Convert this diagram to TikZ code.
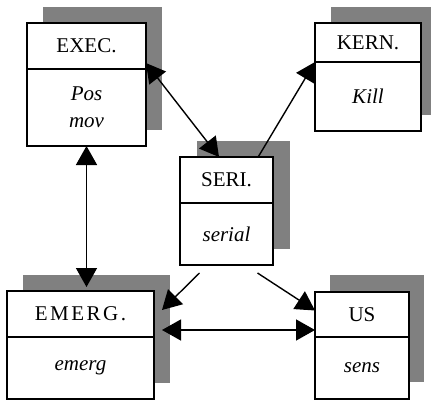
\documentclass[tikz,border=0pt]{standalone}
\usepackage{fontspec}
\setmainfont{Liberation Serif}
\usetikzlibrary{positioning,arrows.meta}

\pgfdeclarelayer{shade}
\pgfdeclarelayer{links}
\pgfsetlayers{shade,links,main}

\begin{document}
\begin{tikzpicture}[x=1pt, y=-1pt, font=\fontsize{21}{27}\selectfont ,
modTitle/.style={rectangle, draw, fill=white, line width=1.4pt, outer sep=0pt, inner sep=1pt} ,
modBody/.style={modTitle, font=\fontsize{21}{27}\selectfont\itshape, align=center} ,
modShade/.style={fill=gray} ,
link/.style={line width=1.4pt, {Triangle[length=19pt,width=21pt]}-{Triangle[length=19pt,width=21pt]}} ,
oneWay/.style={line width=1.4pt, -{Triangle[length=19pt,width=21pt]}}
]
\clip (0,0) rectangle (431,401) ;

% modules
\node (exec-title) at (27,23) [modTitle, anchor=north west, minimum width=119pt, minimum height=46pt] {EXEC.} ;
\node (exec-body) at (exec-title.south) [below=0pt, modBody, minimum width=119pt, minimum height=77pt] {Pos\\mov} ;

\node (kern-title) at (315,23) [modTitle, anchor=north west, minimum width=106pt, minimum height=39pt] {KERN.} ;
\node (kern-body) at (kern-title.south) [below=0pt, modBody, minimum width=106pt, minimum height=69pt] {Kill} ;

\node (seri-title) at (180,157) [modTitle, anchor=north west, minimum width=93pt, minimum height=46pt] {SERI.} ;
\node (seri-body) at (seri-title.south) [below=0pt, modBody, minimum width=93pt, minimum height=62pt] {serial} ;

\node (emerg-title) at (7,291) [modTitle, anchor=north west, minimum width=147pt, minimum height=46pt] {\addfontfeature{LetterSpace=12}EMERG.} ;
\node (emerg-body) at (emerg-title.south) [below=0pt, modBody, minimum width=147pt, minimum height=62pt] {emerg} ;

\node (us-title) at (315,292) [modTitle, anchor=north west, minimum width=94pt, minimum height=45pt] {US} ;
\node (us-body) at (us-title.south) [below=0pt, modBody, minimum width=94pt, minimum height=62pt] {sens} ;

% shadows
\begin{pgfonlayer}{shade}
\fill [modShade] ([shift={(16,-16)}]exec-title.north west) rectangle ([shift={(16,-16)}]exec-body.south east) ;
\fill [modShade] ([shift={(16,-16)}]kern-title.north west) rectangle ([shift={(16,-16)}]kern-body.south east) ;
\fill [modShade] ([shift={(17,-16)}]seri-title.north west) rectangle ([shift={(17,-16)}]seri-body.south east) ;
\fill [modShade] ([shift={(16,-16)}]emerg-title.north west) rectangle ([shift={(16,-16)}]emerg-body.south east) ;
\fill [modShade] ([shift={(15,-17)}]us-title.north west) rectangle ([shift={(15,-17)}]us-body.south east) ;
\end{pgfonlayer}

% connectors
\path (exec-body.south |- emerg-title.north) ++(0,-4) coordinate (emerg-in) ;
\begin{pgfonlayer}{links}
\draw [link] (exec-title.-16) -- (seri-title.108) ;
\draw [oneWay] (seri-title.36) -- (kern-body.north west) ;
\draw [link] (exec-body.south) -- (emerg-in) ;
\draw [oneWay] ([shift={(-27,8)}]seri-body.south) -- ([shift={(8,-4)}]emerg-title.east) ;
\draw [oneWay] ([shift={(31,8)}]seri-body.south) -- ([shift={(0,-4)}]us-title.west) ;
\draw [link] ([shift={(8,-7)}]emerg-title.south east) -- ([shift={(0,-7)}]us-title.south west) ;
\end{pgfonlayer}
\end{tikzpicture}
\end{document}
